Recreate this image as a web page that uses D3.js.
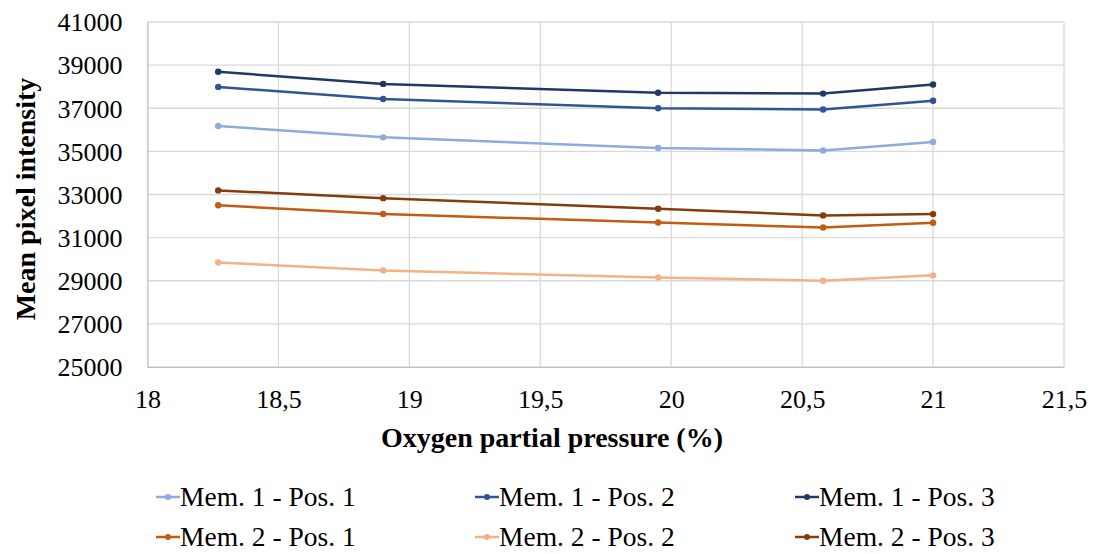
<!DOCTYPE html>
<html><head><meta charset="utf-8">
<script src="https://cdn.jsdelivr.net/npm/d3@7"></script>
<style>body{margin:0;background:#fff;} svg{display:block;} svg text{font-family:"Liberation Serif","Times New Roman",Times,"Noto Serif","DejaVu Serif",FreeSerif,serif;}</style>
</head><body>
<script>
const xValues = [18.27, 18.9, 19.95, 20.58, 21];
const seriesNames = ["Mem. 1 - Pos. 1","Mem. 1 - Pos. 2","Mem. 1 - Pos. 3","Mem. 2 - Pos. 1","Mem. 2 - Pos. 2","Mem. 2 - Pos. 3"];
const mem1pos1 = [36180, 35650, 35160, 35040, 35440];
const mem1pos2 = [37990, 37430, 37000, 36940, 37350];
const mem1pos3 = [38690, 38130, 37720, 37680, 38100];
const mem2pos1 = [32500, 32100, 31700, 31470, 31690];
const mem2pos2 = [29850, 29480, 29150, 29000, 29250];
const mem2pos3 = [33190, 32830, 32340, 32030, 32090];
const colors = ["#8FAADC","#2F5597","#203864","#C55A11","#F4B183","#843C0C"];
const xTicks = [18,18.5,19,19.5,20,20.5,21,21.5];
const yTicks = [25000,27000,29000,31000,33000,35000,37000,39000,41000];
const series = [mem1pos1,mem1pos2,mem1pos3,mem2pos1,mem2pos2,mem2pos3];

const W=1097,H=554;
const svg=d3.select("body").append("svg").attr("width",W).attr("height",H);
const x=d3.scaleLinear().domain([18,21.5]).range([147.5,1064]);
const y=d3.scaleLinear().domain([25000,41000]).range([367,22]);

// grid
svg.append("g").selectAll("line.h").data(yTicks).join("line")
  .attr("x1",x(18)).attr("x2",x(21.5)).attr("y1",d=>y(d)).attr("y2",d=>y(d))
  .attr("stroke","#d9d9d9").attr("stroke-width",1.3);
svg.append("g").selectAll("line.v").data(xTicks).join("line")
  .attr("y1",y(25000)).attr("y2",y(41000)).attr("x1",d=>x(d)).attr("x2",d=>x(d))
  .attr("stroke","#d9d9d9").attr("stroke-width",1.3);

// axes
const xAxis=d3.axisBottom(x).tickValues(xTicks).tickSize(0).tickPadding(0)
  .tickFormat(d=>String(d).replace(".",","));
const gx=svg.append("g").attr("transform",`translate(0,${y(25000)})`).call(xAxis);
gx.attr("font-family",null);
gx.select(".domain").attr("stroke","#bfbfbf");
gx.selectAll("text").attr("dy",null).attr("y",41).attr("font-size",26).attr("fill","#000");

const yAxis=d3.axisLeft(y).tickValues(yTicks).tickSize(0).tickPadding(0).tickFormat(d=>d);
const gy=svg.append("g").attr("transform",`translate(${x(18)},0)`).call(yAxis);
gy.attr("font-family",null);
gy.select(".domain").attr("stroke","#bfbfbf");
gy.selectAll("text").attr("x",-25).attr("dy","0.34em").attr("font-size",26).attr("fill","#000");

// titles
svg.append("text").attr("x",552).attr("y",447).attr("text-anchor","middle")
  .attr("font-weight","bold").attr("font-size",28).text("Oxygen partial pressure (%)");
svg.append("text").attr("transform","translate(35,199) rotate(-90)").attr("text-anchor","middle")
  .attr("font-weight","bold").attr("font-size",28).text("Mean pixel intensity");

// lines
const line=d3.line().x((d,i)=>x(xValues[i])).y(d=>y(d));
series.forEach((s,k)=>{
  const g=svg.append("g");
  g.append("path").datum(s).attr("d",line).attr("fill","none").attr("stroke",colors[k]).attr("stroke-width",2.5);
  g.selectAll("circle").data(s).join("circle").attr("cx",(d,i)=>x(xValues[i])).attr("cy",d=>y(d)).attr("r",3.2).attr("fill",colors[k]);
});

// legend
const legX=[156,475,795], legY=[497,537];
seriesNames.forEach((n,k)=>{
  const cx=legX[k%3], cy=legY[Math.floor(k/3)];
  const g=svg.append("g");
  g.append("line").attr("x1",cx).attr("x2",cx+24).attr("y1",cy).attr("y2",cy).attr("stroke",colors[k]).attr("stroke-width",2.5);
  g.append("circle").attr("cx",cx+12).attr("cy",cy).attr("r",3).attr("fill",colors[k]);
  g.append("text").attr("x",cx+24).attr("y",cy).attr("dy","0.34em").attr("font-size",27.5).text(n);
});
</script>
</body></html>
